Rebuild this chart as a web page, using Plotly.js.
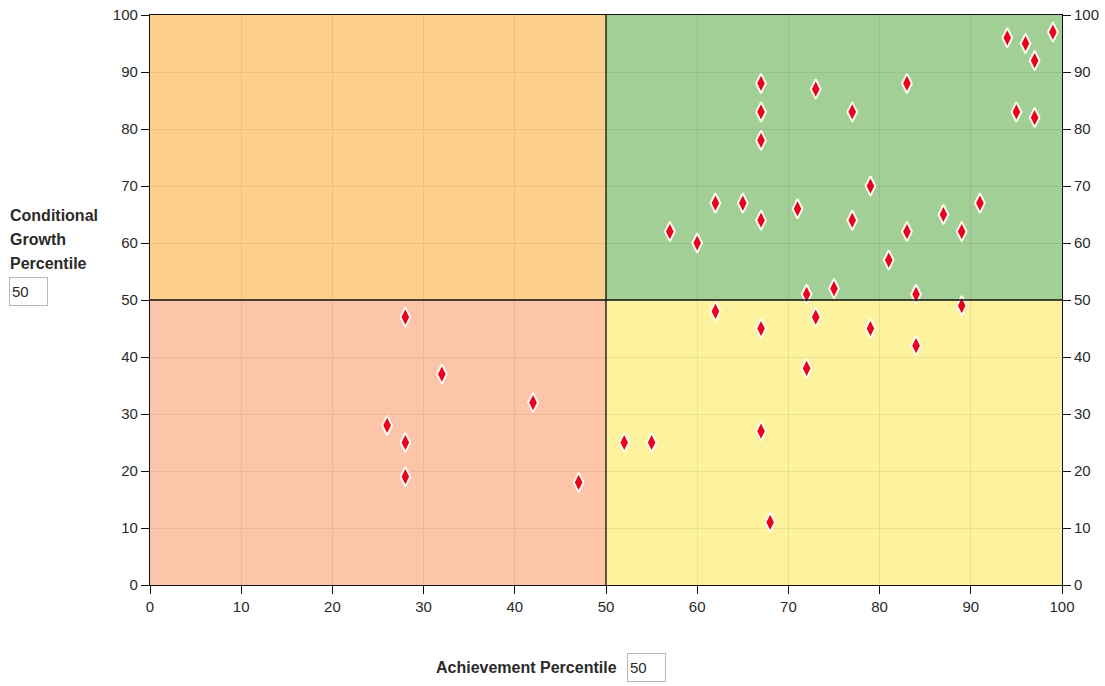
<!DOCTYPE html>
<html>
<head>
<meta charset="utf-8">
<script src="https://cdn.plot.ly/plotly-3.0.1.min.js"></script>
<style>
html,body{margin:0;padding:0;background:#fff;}
#chart{width:1105px;height:686px;}
</style>
</head>
<body>
<div id="chart"></div>
<script>
// Achievement percentile (x) and conditional growth percentile (y) for each student
const achievement = [67,67,67,73,77,83,94,96,97,99,95,97,
  57,60,62,65,67,71,79,77,83,81,87,89,91,72,75,84,
  62,67,73,79,89,84,72,52,55,67,68,
  28,32,42,26,28,28,47];
const growth = [88,83,78,87,83,88,96,95,92,97,83,82,
  62,60,67,67,64,66,70,64,62,57,65,62,67,51,52,51,
  48,45,47,45,49,42,38,25,25,27,11,
  47,37,32,28,25,19,18];
const xCut = 50;
const yCut = 50;
const axisMin = 0, axisMax = 100;
const tickVals = [0,10,20,30,40,50,60,70,80,90,100];
const xLabel = "Achievement Percentile";
const yLabelLines = ["Conditional", "Growth", "Percentile"];

const font = "Liberation Sans, Arial, Helvetica, sans-serif";
const txtColor = "#2a2a2a";

const traces = [
  {
    x: achievement, y: growth, type: "scatter", mode: "markers",
    marker: {symbol: "diamond-tall", size: 14, color: "#e8001c",
             line: {color: "#fffaf0", width: 2}},
    hoverinfo: "x+y", showlegend: false
  },
  {x: [axisMin], y: [axisMin], yaxis: "y2", type: "scatter", mode: "none",
   hoverinfo: "skip", showlegend: false}
];

const quad = (x0,x1,y0,y1,c) => ({type:"rect", xref:"x", yref:"y", x0:x0, x1:x1, y0:y0, y1:y1,
  fillcolor:c, line:{width:0}, layer:"below"});

const shapes = [
  quad(axisMin,xCut,yCut,axisMax,"#fcd08b"),
  quad(xCut,axisMax,yCut,axisMax,"#a1cf95"),
  quad(axisMin,xCut,axisMin,yCut,"#fcc5aa"),
  quad(xCut,axisMax,axisMin,yCut,"#fdf39e"),
  {type:"line", xref:"x", yref:"y", x0:xCut, x1:xCut, y0:axisMin, y1:axisMax, line:{color:"#111", width:1.3}},
  {type:"line", xref:"x", yref:"y", x0:axisMin, x1:axisMax, y0:yCut, y1:yCut, line:{color:"#111", width:1.3}}
];

const W = 912, H = 570; // plot area size
const px = v => (v-150)/W;
const py = v => (585-v)/H;

const annotations = [];
const labelY = [215, 239, 263];
yLabelLines.forEach((t,i) => annotations.push({
  text: "<b>"+t+"</b>", xref:"paper", yref:"paper", x:px(8), y:py(labelY[i]),
  xanchor:"left", yanchor:"middle", showarrow:false,
  font:{family:font, size:16, color:txtColor}
}));
annotations.push({
  text: String(yCut), xref:"paper", yref:"paper", x:px(9), y:py(291.5),
  xanchor:"left", yanchor:"middle", showarrow:false, align:"left",
  width:33, height:23, borderpad:2, borderwidth:1, bordercolor:"#bdb8ad", bgcolor:"#fff",
  font:{family:font, size:15, color:txtColor}
});
annotations.push({
  text: "<b>"+xLabel+"</b>", xref:"paper", yref:"paper", x:px(619), y:py(667),
  xanchor:"right", yanchor:"middle", showarrow:false,
  font:{family:font, size:16, color:txtColor}
});
annotations.push({
  text: String(xCut), xref:"paper", yref:"paper", x:px(627), y:py(667.5),
  xanchor:"left", yanchor:"middle", showarrow:false, align:"left",
  width:33, height:23, borderpad:2, borderwidth:1, bordercolor:"#bdb8ad", bgcolor:"#fff",
  font:{family:font, size:15, color:txtColor}
});

const axisCommon = {
  range:[axisMin,axisMax], tickvals:tickVals, showgrid:true,
  gridcolor:"rgba(0,0,0,0.07)", gridwidth:1, zeroline:false,
  showline:true, linecolor:"#111", linewidth:1.3,
  ticks:"outside", ticklen:8, tickcolor:"#111", tickwidth:1,
  tickfont:{family:font, size:15, color:txtColor}, fixedrange:true
};

const layout = {
  width:1105, height:686,
  margin:{l:150, r:43, t:15, b:101, pad:0},
  paper_bgcolor:"#ffffff", plot_bgcolor:"#ffffff",
  xaxis: Object.assign({}, axisCommon, {mirror:true}),
  yaxis: Object.assign({}, axisCommon, {mirror:true}),
  yaxis2: Object.assign({}, axisCommon, {overlaying:"y", side:"right", showgrid:false, showline:false}),
  shapes: shapes,
  annotations: annotations,
  showlegend:false,
  hovermode:"closest"
};

Plotly.newPlot("chart", traces, layout, {displayModeBar:false, staticPlot:false});
</script>
</body>
</html>
